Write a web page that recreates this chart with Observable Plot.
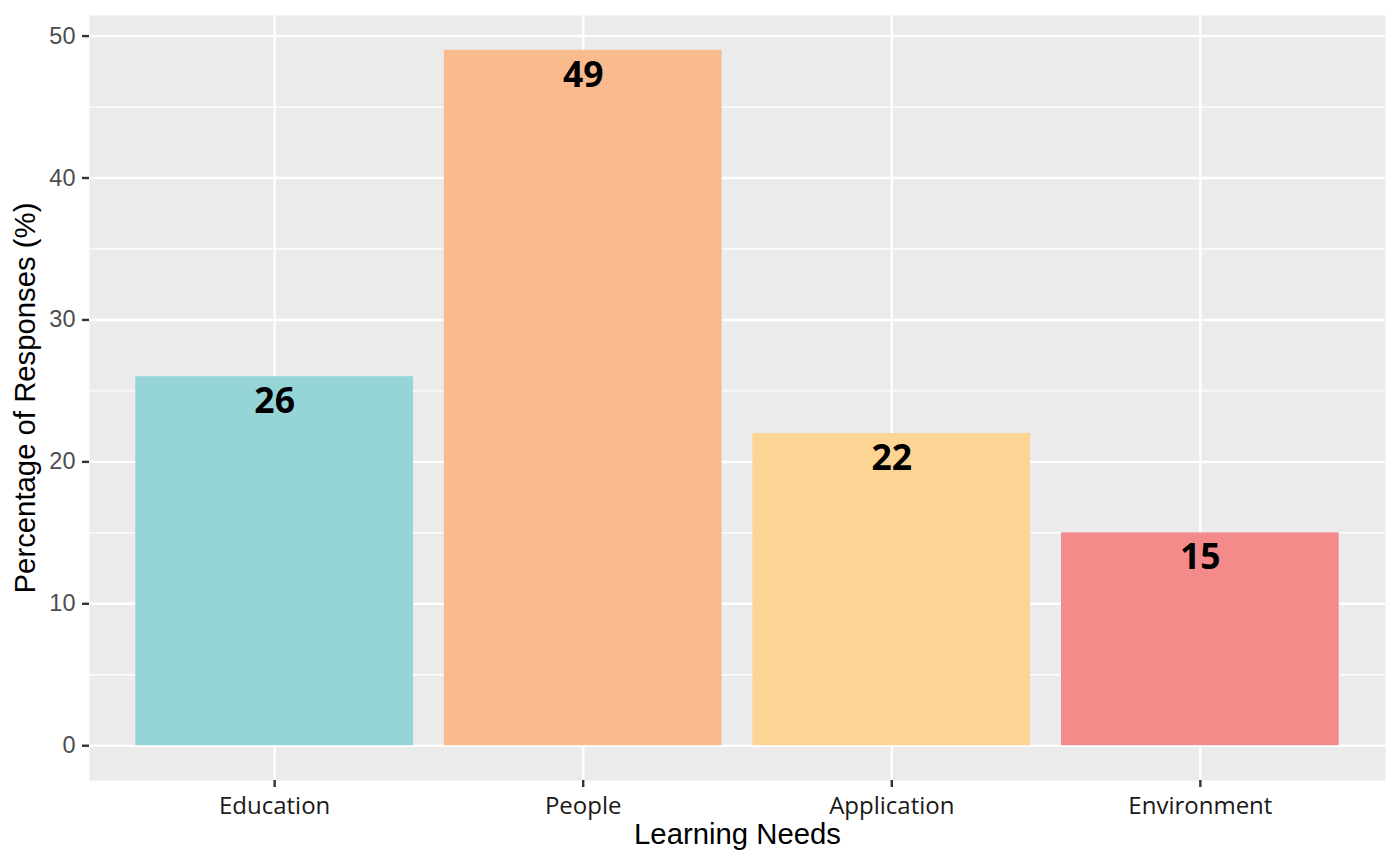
<!DOCTYPE html>
<html>
<head>
<meta charset="utf-8">
<script src="https://cdn.jsdelivr.net/npm/d3@7"></script>
<script src="https://cdn.jsdelivr.net/npm/@observablehq/plot@0.6"></script>
<style>
  html, body { margin: 0; padding: 0; background: #ffffff; }
  #chart svg { display: block; background: #ffffff; }
</style>
</head>
<body>
<div id="chart"></div>
<script>
const categories = ["Education", "People", "Application", "Environment"];
const values = [26, 49, 22, 15];
const barColors = ["#96D5D7", "#F9BB8D", "#FCD594", "#F48A8A"];
const yMajorTicks = [0, 10, 20, 30, 40, 50];
const yMinorTicks = [5, 15, 25, 35, 45];
const xTitle = "Learning Needs";
const yTitle = "Percentage of Responses (%)";

const data = categories.map((c, i) => ({category: c, value: values[i]}));
const maxV = d3.max(values);
const pad = maxV * 0.05;

const chart = Plot.plot({
  width: 1400,
  height: 865,
  marginLeft: 89,
  marginRight: 15,
  marginTop: 15,
  marginBottom: 85,
  x: {type: "band", domain: categories, paddingInner: 0.1, paddingOuter: 0.15, align: 0.5, round: false, axis: null},
  y: {domain: [-pad, maxV + pad], axis: null},
  color: {domain: categories, range: barColors},
  marks: [
    Plot.frame({fill: "#EBEBEB", stroke: null}),
    Plot.gridY(yMinorTicks, {stroke: "#ffffff", strokeOpacity: 1, strokeWidth: 1.3}),
    Plot.gridY(yMajorTicks, {stroke: "#ffffff", strokeOpacity: 1, strokeWidth: 2.4}),
    Plot.gridX(categories, {stroke: "#ffffff", strokeOpacity: 1, strokeWidth: 2.4}),
    Plot.barY(data, {x: "category", y1: 0, y2: "value", fill: "category"}),
    Plot.text(data, {
      x: "category", y: "value", text: d => String(d.value),
      dy: 25, lineAnchor: "middle", fill: "#000000",
      fontFamily: "Open Sans", fontWeight: "bold", fontSize: 35.5
    }),
    Plot.axisY(yMajorTicks, {
      anchor: "left", tickSize: 7, tickPadding: 7, stroke: "#333333", strokeWidth: 2.4,
      fill: "#4D4D4D", fontFamily: "Liberation Sans", fontSize: 23.5, label: null
    }),
    Plot.axisX(categories, {
      anchor: "bottom", tickSize: 7, tickPadding: 9, stroke: "#333333", strokeWidth: 2.4,
      fill: "#1A1A1A", fontFamily: "Open Sans", fontSize: 24, label: null
    }),
    Plot.text([xTitle], {
      frameAnchor: "bottom", dy: 54, lineAnchor: "middle", textAnchor: "middle", text: d => d,
      fill: "#000000", fontFamily: "Liberation Sans", fontSize: 29.3
    }),
    Plot.text([yTitle], {
      frameAnchor: "left", dx: -64, rotate: -90, lineAnchor: "middle", textAnchor: "middle", text: d => d,
      fill: "#000000", fontFamily: "Liberation Sans", fontSize: 29.3
    })
  ]
});
document.getElementById("chart").appendChild(chart);
</script>
</body>
</html>
